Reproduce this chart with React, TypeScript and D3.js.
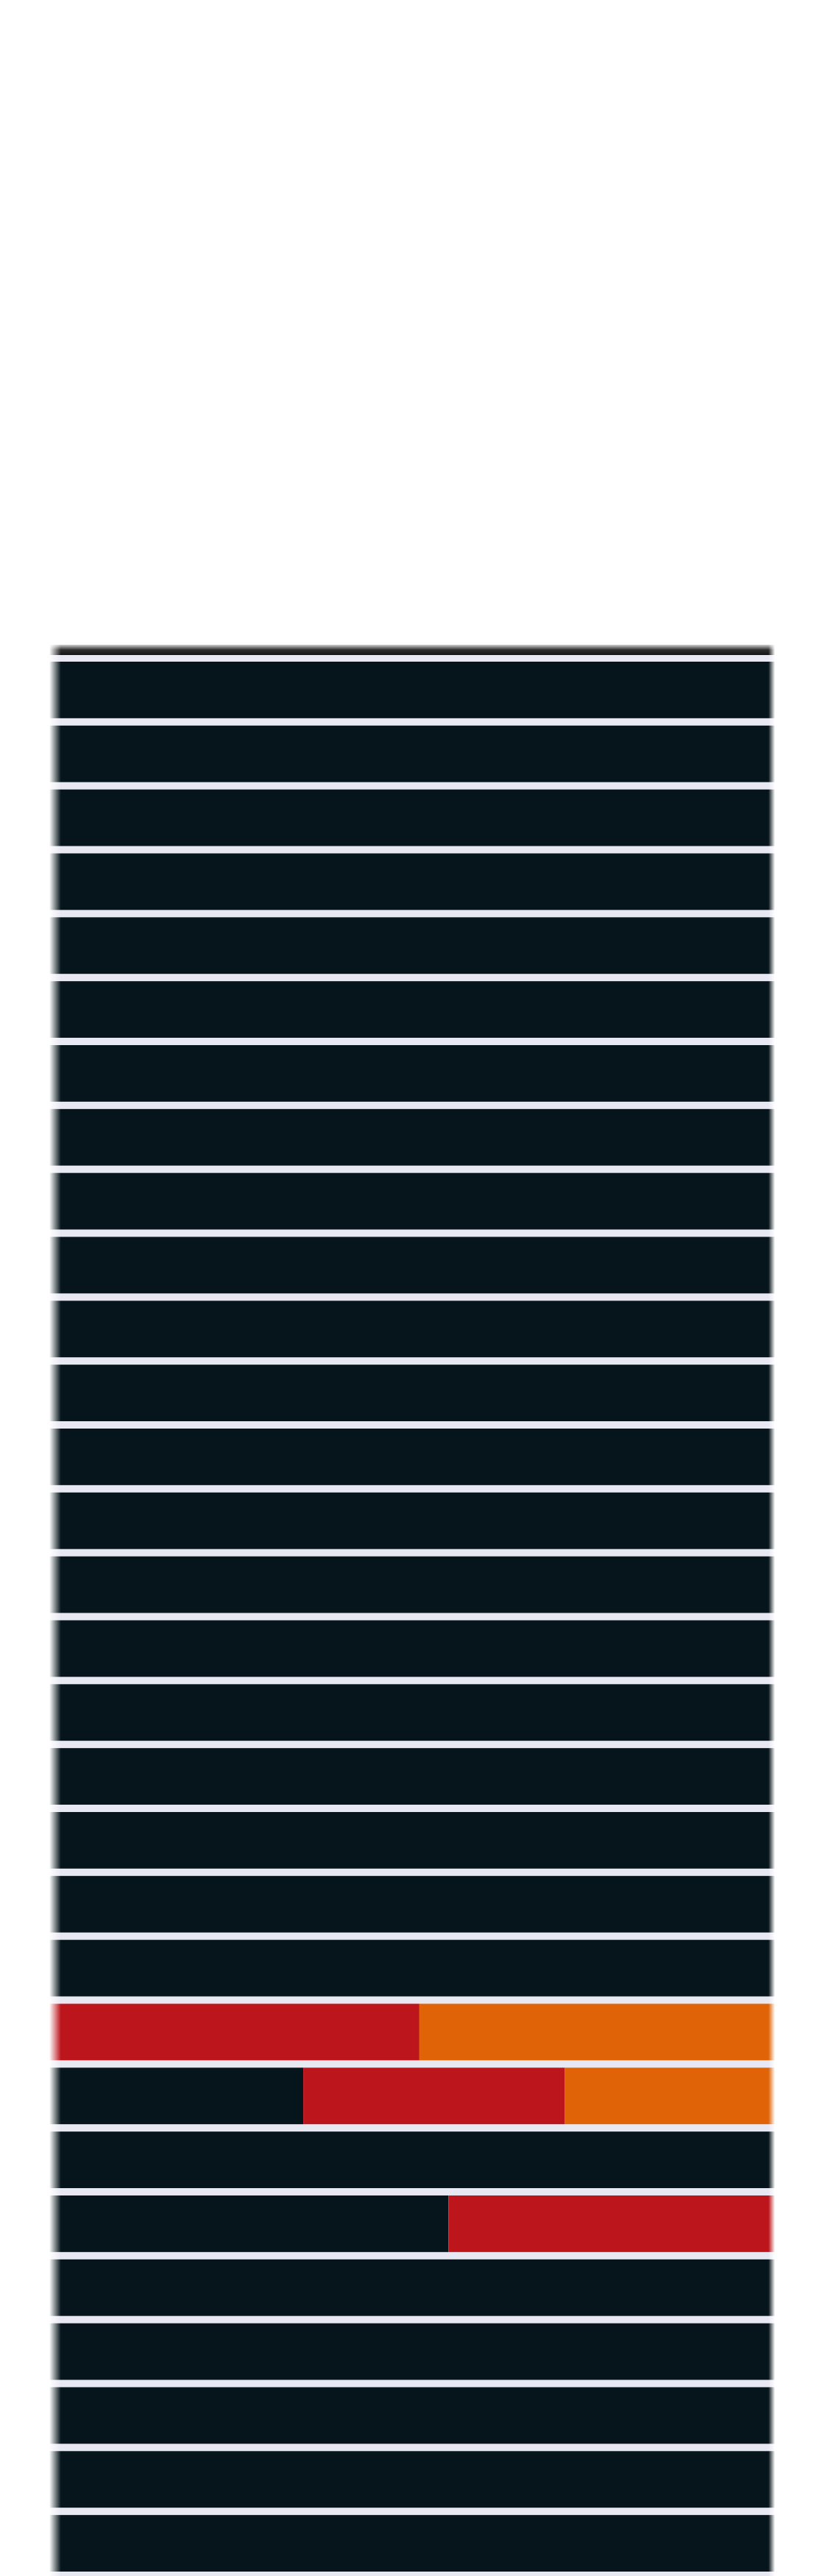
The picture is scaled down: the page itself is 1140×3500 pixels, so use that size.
import React from 'react';
import * as d3 from 'd3';

// one stacked bar per row, shares in percent
const rows = d3.range(1, 31).map(String);
const darkShare = [
  100, 100, 100, 100, 100, 100, 100, 100, 100, 100,
  100, 100, 100, 100, 100, 100, 100, 100, 100, 100,
  100, 0, 35, 100, 55, 100, 100, 100, 100, 100,
];
const redShare = [
  0, 0, 0, 0, 0, 0, 0, 0, 0, 0,
  0, 0, 0, 0, 0, 0, 0, 0, 0, 0,
  0, 51, 36, 0, 45, 0, 0, 0, 0, 0,
];
const orangeShare = [
  0, 0, 0, 0, 0, 0, 0, 0, 0, 0,
  0, 0, 0, 0, 0, 0, 0, 0, 0, 0,
  0, 49, 29, 0, 0, 0, 0, 0, 0, 0,
];
const keys = ['dark', 'red', 'orange'];
const colors = ['#06151b', '#bd151c', '#e06308'];

const W = 1140;
const H = 3500;
const left = 67;
const right = 1053;
const top = 899;
const bottom = 3494;

export default function App() {
  const table = rows.map((r, i) => ({
    row: r,
    dark: darkShare[i],
    red: redShare[i],
    orange: orangeShare[i],
  }));
  const series = d3.stack<any>().keys(keys)(table);

  const x = d3.scaleLinear().domain([0, 100]).range([left, right]);
  const y = d3.scaleBand().domain(rows).range([top, bottom])
    .paddingInner(0.115).paddingOuter(0);
  const color = d3.scaleOrdinal<string>().domain(keys).range(colors);

  return (
    <svg width={W} height={H} style={{position: 'absolute', left: 0, top: 0}}>
      <defs>
        <linearGradient id="hfade" x1="0" x2="1" y1="0" y2="0">
          <stop offset="0" stopColor="#fff" stopOpacity={0} />
          <stop offset="0.016" stopColor="#fff" stopOpacity={1} />
          <stop offset="0.991" stopColor="#fff" stopOpacity={1} />
          <stop offset="1" stopColor="#fff" stopOpacity={0} />
        </linearGradient>
        <mask id="panelMask" maskUnits="userSpaceOnUse" x={left} y={0} width={right - left} height={H}>
          <rect x={left} y={0} width={right - left} height={H} fill="url(#hfade)" />
        </mask>
        <linearGradient id="topShade" x1="0" x2="0" y1="0" y2="1">
          <stop offset="0" stopColor="#151515" stopOpacity={0.2} />
          <stop offset="0.5" stopColor="#151515" stopOpacity={0.9} />
          <stop offset="1" stopColor="#151515" stopOpacity={1} />
        </linearGradient>
      </defs>
      <rect width={W} height={H} fill="#fff" />
      <g mask="url(#panelMask)">
        <rect x={left} y={876} width={right - left} height={14} fill="url(#topShade)" />
        <rect x={left} y={890} width={right - left} height={H - 890} fill="#e8e8f2" />
        {series.map((s) => (
          <g key={s.key} fill={color(s.key)}>
            {s.map((d, i) => (
              d[1] - d[0] > 0 ? (
                <rect
                  key={i}
                  x={x(d[0])}
                  y={y(rows[i])}
                  width={x(d[1]) - x(d[0])}
                  height={y.bandwidth()}
                />
              ) : null
            ))}
          </g>
        ))}
      </g>
    </svg>
  );
}
